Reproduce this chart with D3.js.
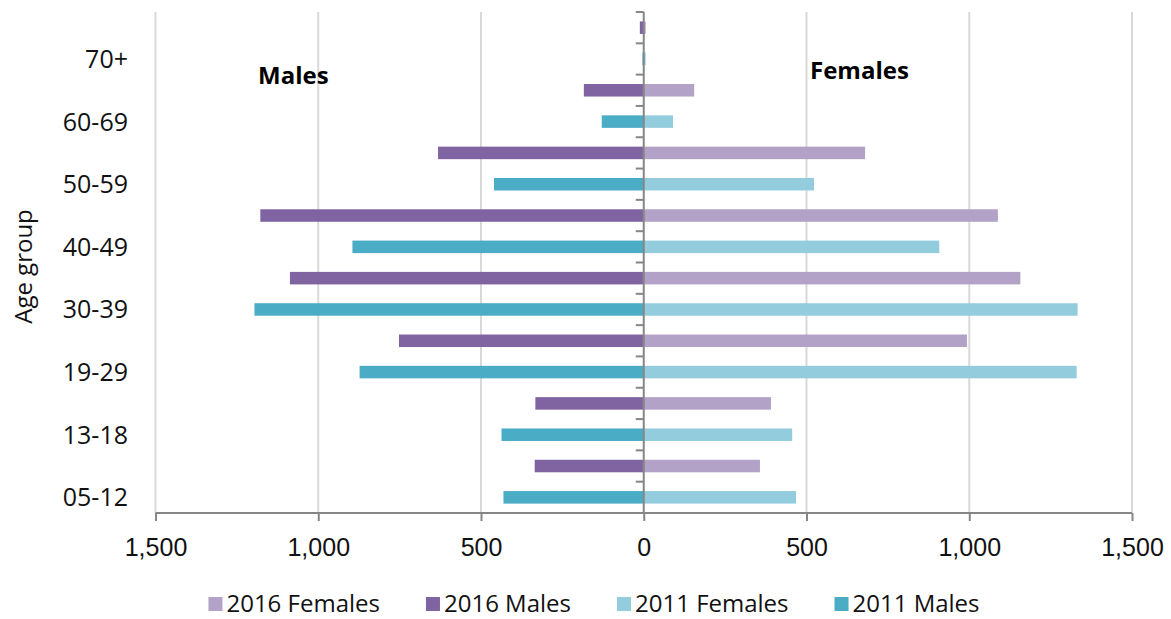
<!DOCTYPE html>
<html>
<head>
<meta charset="utf-8">
<script src="https://cdn.jsdelivr.net/npm/d3@7"></script>
<style>
  html, body { margin: 0; padding: 0; background: #fff; }
  svg { display: block; font-family: "Open Sans", "Noto Sans", sans-serif; }
</style>
</head>
<body>
<div id="chart"></div>
<script>
// age groups, bottom to top
const ageGroups   = ["05-12", "13-18", "19-29", "30-39", "40-49", "50-59", "60-69", "70+"];
const males2016   = [335, 333, 752, 1087, 1178, 632, 184, 12];
const females2016 = [357, 391, 993, 1157, 1088, 680, 155, 6];
const males2011   = [431, 437, 873, 1196, 895, 460, 129, 4];
const females2011 = [468, 456, 1330, 1333, 908, 523, 90, 6];
const xTicks      = [-1500, -1000, -500, 0, 500, 1000, 1500];

const colors = {
    f2016: "#b3a2c7",
    m2016: "#8064a2",
    f2011: "#93cddd",
    m2011: "#4bacc6"
};

const legendItems = [
    {label: "2016 Females", color: colors.f2016},
    {label: "2016 Males",   color: colors.m2016},
    {label: "2011 Females", color: colors.f2011},
    {label: "2011 Males",   color: colors.m2011}
];

let width = 1171,
    height = 619,
    plot = {left: 155.5, right: 1132, top: 12, bottom: 513};

// one row per bar: 2016 above 2011 inside each age group, oldest on top
let rows = [];
for (let i = ageGroups.length - 1; i >= 0; i--) {
    rows.push({key: ageGroups[i] + "|2016", age: ageGroups[i], year: 2016,
               male: males2016[i], female: females2016[i]});
    rows.push({key: ageGroups[i] + "|2011", age: ageGroups[i], year: 2011,
               male: males2011[i], female: females2011[i]});
}

let x = d3.scaleLinear()
    .domain([-1500, 1500])
    .range([plot.left, plot.right]);

let y = d3.scaleBand()
    .domain(rows.map(d => d.key))
    .range([plot.top, plot.bottom])
    .paddingInner(0.6)
    .paddingOuter(0.3);

let svg = d3.select("#chart").append("svg")
    .attr("width", width)
    .attr("height", height);

// gridlines
svg.append("g")
    .selectAll("line")
    .data(xTicks.filter(t => t !== 0))
    .enter().append("line")
    .attr("x1", d => x(d))
    .attr("x2", d => x(d))
    .attr("y1", plot.top)
    .attr("y2", plot.bottom)
    .style("stroke", "#d9d9d9")
    .style("stroke-width", 2);

// male bars (left)
svg.append("g")
    .selectAll("rect")
    .data(rows)
    .enter().append("rect")
    .attr("x", d => x(-d.male))
    .attr("y", d => y(d.key))
    .attr("width", d => x(0) - x(-d.male))
    .attr("height", y.bandwidth())
    .style("fill", d => d.year === 2016 ? colors.m2016 : colors.m2011);

// female bars (right)
svg.append("g")
    .selectAll("rect")
    .data(rows)
    .enter().append("rect")
    .attr("x", x(0))
    .attr("y", d => y(d.key))
    .attr("width", d => x(d.female) - x(0))
    .attr("height", y.bandwidth())
    .style("fill", d => d.year === 2016 ? colors.f2016 : colors.f2011);

// bottom axis
let xAxis = svg.append("g")
    .attr("transform", "translate(0," + plot.bottom + ")")
    .call(d3.axisBottom(x)
        .tickValues(xTicks)
        .tickSize(8)
        .tickPadding(17)
        .tickFormat(d => d3.format(",")(Math.abs(d))));
xAxis.select(".domain")
    .attr("d", "M" + plot.left + ",0H" + plot.right)
    .style("stroke", "#868686")
    .style("stroke-width", 2);
xAxis.selectAll(".tick line")
    .style("stroke", "#868686")
    .style("stroke-width", 2);
xAxis.selectAll(".tick text")
    .attr("font-family", null)
    .style("font-size", "25px")
    .style("fill", "#111");

// centre axis at 0 with small ticks between rows
let step = y.step();
let boundaries = d3.range(rows.length).map(i => plot.top + i * step);
svg.append("g")
    .selectAll("line")
    .data(boundaries)
    .enter().append("line")
    .attr("x1", x(0) - 8)
    .attr("x2", x(0))
    .attr("y1", d => d)
    .attr("y2", d => d)
    .style("stroke", "#868686")
    .style("stroke-width", 2);
svg.append("line")
    .attr("x1", x(0))
    .attr("x2", x(0))
    .attr("y1", plot.top)
    .attr("y2", plot.bottom)
    .style("stroke", "#868686")
    .style("stroke-width", 2);

// age group labels sit beside the 2011 bar
svg.append("g")
    .selectAll("text")
    .data(rows.filter(d => d.year === 2011))
    .enter().append("text")
    .attr("x", 128)
    .attr("y", d => y(d.key) + y.bandwidth() / 2)
    .attr("dy", "0.36em")
    .attr("text-anchor", "end")
    .style("font-size", "25px")
    .style("fill", "#111")
    .text(d => d.age);

svg.append("text")
    .attr("transform", "translate(32," + ((plot.top + plot.bottom) / 2 + 4) + ") rotate(-90)")
    .attr("text-anchor", "middle")
    .style("font-size", "24px")
    .style("fill", "#111")
    .text("Age group");

// side titles
svg.append("text")
    .attr("x", 258)
    .attr("y", 84)
    .style("font-size", "24px")
    .style("font-weight", "bold")
    .text("Males");
svg.append("text")
    .attr("x", 810)
    .attr("y", 79)
    .style("font-size", "24px")
    .style("font-weight", "bold")
    .text("Females");

// legend
let legend = svg.append("g");
let items = legend.selectAll("g")
    .data(legendItems)
    .enter().append("g");
items.append("rect")
    .attr("width", 14)
    .attr("height", 14)
    .attr("y", -6)
    .style("fill", d => d.color);
items.append("text")
    .attr("x", 18)
    .attr("dy", "0.36em")
    .style("font-size", "24px")
    .style("fill", "#111")
    .text(d => d.label);

let offset = 0;
items.each(function() {
    let w = this.getBBox().width;
    d3.select(this).attr("transform", "translate(" + offset + ",0)");
    offset += w + 46;
});
let legendWidth = offset - 46;
legend.attr("transform", "translate(" + (594 - legendWidth / 2) + ",603)");
</script>
</body>
</html>
